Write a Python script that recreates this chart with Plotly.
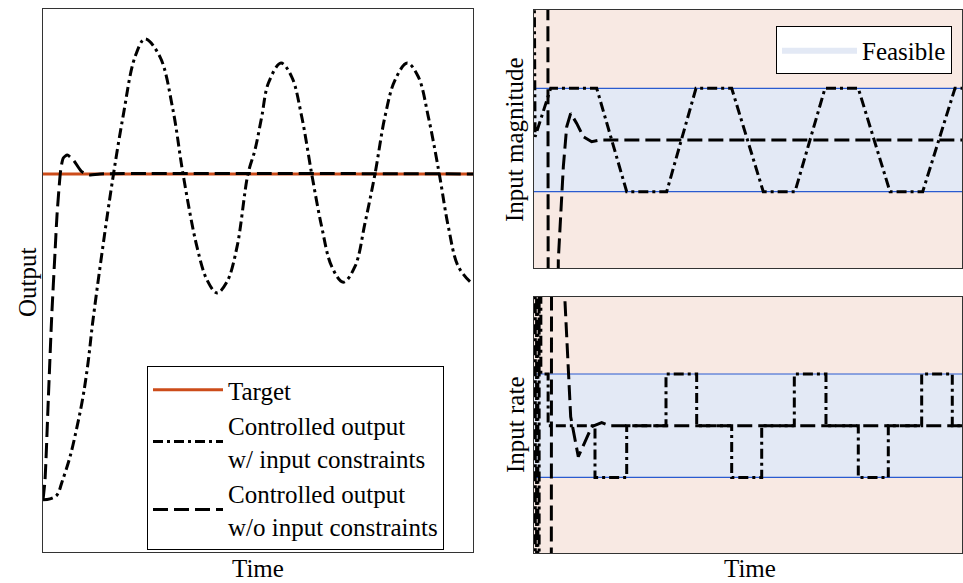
import plotly.graph_objects as go

# ---------------- data ----------------
# Left panel: output vs time (target = 1, start = 0)
target_time = [0, 10]
target_values = [1, 1]

out_time_dashdot = [0, 0.163, 0.326, 0.442, 0.628, 0.791, 0.930, 1.047, 1.163, 1.558, 1.860, 2.140,
                    2.372, 2.721, 3.023, 3.256, 3.581, 3.814, 4.047, 4.279, 4.512, 4.767, 4.930,
                    5.086, 5.240, 5.535, 5.784, 6.016, 6.249, 6.481, 6.714, 6.984, 7.256, 7.488,
                    7.721, 7.953, 8.186, 8.472, 8.728, 8.960, 9.216, 9.426, 9.658, 9.970, 10.0]
out_with_constraints = [0, 0.003, 0.015, 0.055, 0.132, 0.224, 0.316, 0.420, 0.552, 0.929, 1.175, 1.359,
                        1.414, 1.359, 1.196, 1.0, 0.776, 0.675, 0.635, 0.669, 0.776, 1.0, 1.074,
                        1.175, 1.278, 1.340, 1.298, 1.176, 1.0, 0.838, 0.716, 0.668, 0.716, 0.849,
                        1.0, 1.176, 1.288, 1.340, 1.298, 1.176, 1.0, 0.838, 0.716, 0.665, 0.664]

out_time_dashed = [0, 0.047, 0.123, 0.202, 0.279, 0.326, 0.412, 0.472, 0.565, 0.705, 0.900, 1.093, 1.326, 10]
out_without_constraints = [0, 0.061, 0.307, 0.561, 0.758, 0.874, 1.012, 1.049, 1.058, 1.043, 1.007, 0.997, 1.0, 1.0]

# Top-right panel: input magnitude
feasible_time = [0, 10]
feasible_lower = [-1, -1]
feasible_upper = [1, 1]

mag_time_dashdot = [0, 0.025, 0.39, 1.465, 2.166, 3.100, 3.785, 4.619, 5.357, 6.098, 6.799, 7.577,
                    8.318, 9.082, 9.836, 10.0]
mag_with_constraints = [4.0, 0.06, 1, 1, -1, -1, 1, 1, -1, -1, 1, 1, -1, -1, 1, 1]

mag_time_dashed = [0, 0.32, 0.335, 0.55, 0.568, 0.685, 0.764, 0.857, 0.998, 1.152, 1.348, 1.542, 10]
mag_without_constraints = [6, 6, -6, -6, -2.32, -0.52, 0.257, 0.515, 0.322, 0.064, -0.033, 0, 0]

# Bottom-right panel: input rate
rate_time_dashdot = [0, 0.03, 0.06, 0.09, 0.12, 0.16, 0.33, 1.425, 2.166, 3.084, 3.801, 4.619, 5.320,
                     6.082, 6.822, 7.577, 8.278, 9.058, 9.773, 10]
rate_with_constraints = [6, -6, 6, -6, 6, 1, 0, -1, 0, 1, 0, -1, 0, 1, 0, -1, 0, 1, 0, 0]

rate_time_dashed = [0, 0.40, 0.414, 0.60, 0.724, 0.857, 1.035, 1.348, 1.582, 1.776, 10]
rate_without_constraints = [-8, -8, 8, 5, 2.40, 0.174, -0.60, -0.02, 0.058, 0, 0]

# ---------------- styles ----------------
FONT = "Liberation Serif, Times New Roman, serif"
ORANGE = "#cc4c1a"
PINK = "#f8e9e3"
LIGHTBLUE = "#e3e9f5"
BLUE = "#2a5bd0"
DASHDOT = "10px,4px,3px,4px"
DASHED = "15px,6px"
LW = 3

fig = go.Figure()

# Left panel
fig.add_trace(go.Scatter(x=target_time, y=target_values, mode="lines", name="Target",
                         line=dict(color=ORANGE, width=3), xaxis="x", yaxis="y", legend="legend"))
fig.add_trace(go.Scatter(x=out_time_dashdot, y=out_with_constraints, mode="lines",
                         name="Controlled output<br>w/ input constraints",
                         line=dict(color="black", width=LW, dash=DASHDOT, shape="spline", smoothing=1.0),
                         xaxis="x", yaxis="y", legend="legend"))
fig.add_trace(go.Scatter(x=out_time_dashed, y=out_without_constraints, mode="lines",
                         name="Controlled output<br>w/o input constraints",
                         line=dict(color="black", width=LW, dash=DASHED, shape="spline", smoothing=0.6),
                         xaxis="x", yaxis="y", legend="legend"))

# Top-right: feasible band
fig.add_trace(go.Scatter(x=feasible_time, y=feasible_lower, mode="lines", line=dict(width=0),
                         showlegend=False, hoverinfo="skip", xaxis="x2", yaxis="y2"))
fig.add_trace(go.Scatter(x=feasible_time, y=feasible_upper, mode="lines", line=dict(width=0),
                         fill="tonexty", fillcolor=LIGHTBLUE, name="Feasible",
                         xaxis="x2", yaxis="y2", legend="legend2"))
fig.add_trace(go.Scatter(x=feasible_time, y=feasible_upper, mode="lines", line=dict(color=BLUE, width=1.2),
                         showlegend=False, xaxis="x2", yaxis="y2"))
fig.add_trace(go.Scatter(x=feasible_time, y=feasible_lower, mode="lines", line=dict(color=BLUE, width=1.2),
                         showlegend=False, xaxis="x2", yaxis="y2"))
fig.add_trace(go.Scatter(x=mag_time_dashdot, y=mag_with_constraints, mode="lines",
                         line=dict(color="black", width=LW, dash=DASHDOT),
                         showlegend=False, xaxis="x2", yaxis="y2"))
fig.add_trace(go.Scatter(x=mag_time_dashed, y=mag_without_constraints, mode="lines",
                         line=dict(color="black", width=LW, dash=DASHED),
                         showlegend=False, xaxis="x2", yaxis="y2"))

# Bottom-right: feasible band
fig.add_trace(go.Scatter(x=feasible_time, y=feasible_lower, mode="lines", line=dict(width=0),
                         showlegend=False, hoverinfo="skip", xaxis="x3", yaxis="y3"))
fig.add_trace(go.Scatter(x=feasible_time, y=feasible_upper, mode="lines", line=dict(width=0),
                         fill="tonexty", fillcolor=LIGHTBLUE, showlegend=False,
                         xaxis="x3", yaxis="y3"))
fig.add_trace(go.Scatter(x=feasible_time, y=feasible_upper, mode="lines", line=dict(color=BLUE, width=1.2),
                         showlegend=False, xaxis="x3", yaxis="y3"))
fig.add_trace(go.Scatter(x=feasible_time, y=feasible_lower, mode="lines", line=dict(color=BLUE, width=1.2),
                         showlegend=False, xaxis="x3", yaxis="y3"))
fig.add_trace(go.Scatter(x=rate_time_dashdot, y=rate_with_constraints, mode="lines",
                         line=dict(color="black", width=LW, dash=DASHDOT, shape="hv"),
                         showlegend=False, xaxis="x3", yaxis="y3"))
fig.add_trace(go.Scatter(x=rate_time_dashed, y=rate_without_constraints, mode="lines",
                         line=dict(color="black", width=LW, dash=DASHED),
                         showlegend=False, xaxis="x3", yaxis="y3"))

W, H = 963, 583
def px(x):
    return x / W
def py(y):
    return 1 - y / H

axis_common = dict(showticklabels=False, ticks="", showgrid=False, zeroline=False,
                   showline=True, mirror=True, linecolor="#333333", linewidth=1.2)

fig.update_layout(
    width=W, height=H,
    margin=dict(l=0, r=0, t=0, b=0),
    paper_bgcolor="white", plot_bgcolor="white",
    font=dict(family=FONT, size=25, color="black"),
    xaxis=dict(domain=[px(43), px(473)], range=[0, 10], anchor="y", **axis_common),
    yaxis=dict(domain=[py(552), py(9)], range=[-0.160, 1.506], anchor="x", **axis_common),
    xaxis2=dict(domain=[px(534), px(962)], range=[0, 10], anchor="y2", **axis_common),
    yaxis2=dict(domain=[py(268), py(10)], range=[-2.476, 2.515], anchor="x2", **axis_common),
    xaxis3=dict(domain=[px(534), px(962)], range=[0, 10], anchor="y3", **axis_common),
    yaxis3=dict(domain=[py(553), py(297)], range=[-2.462, 2.489], anchor="x3", **axis_common),
    legend=dict(x=px(147), y=py(366), xanchor="left", yanchor="top", traceorder="normal",
                itemwidth=70,
                bgcolor="white", bordercolor="black", borderwidth=1,
                font=dict(family=FONT, size=25, color="black")),
    legend2=dict(x=px(952), y=py(26), xanchor="right", yanchor="top", traceorder="normal",
                 itemwidth=75,
                 bgcolor="white", bordercolor="black", borderwidth=1,
                 font=dict(family=FONT, size=25, color="black")),
    shapes=[
        dict(type="rect", xref="x2 domain", yref="y2 domain", x0=0, x1=1, y0=0, y1=1,
             fillcolor=PINK, line=dict(width=0), layer="below"),
        dict(type="rect", xref="x3 domain", yref="y3 domain", x0=0, x1=1, y0=0, y1=1,
             fillcolor=PINK, line=dict(width=0), layer="below"),
    ],
    annotations=[
        dict(text="Output", x=px(27), y=py(282), xref="paper", yref="paper", showarrow=False,
             textangle=-90, xanchor="center", yanchor="middle"),
        dict(text="Time", x=px(258), y=py(568), xref="paper", yref="paper", showarrow=False,
             xanchor="center", yanchor="middle"),
        dict(text="Input magnitude", x=px(515), y=py(140), xref="paper", yref="paper", showarrow=False,
             textangle=-90, xanchor="center", yanchor="middle"),
        dict(text="Input rate", x=px(515), y=py(425), xref="paper", yref="paper", showarrow=False,
             textangle=-90, xanchor="center", yanchor="middle"),
        dict(text="Time", x=px(750), y=py(568), xref="paper", yref="paper", showarrow=False,
             xanchor="center", yanchor="middle"),
    ],
)

fig.write_html("out.html", config={"displayModeBar": False},
               post_script="document.body.style.margin='0px';document.body.style.overflow='hidden';")
